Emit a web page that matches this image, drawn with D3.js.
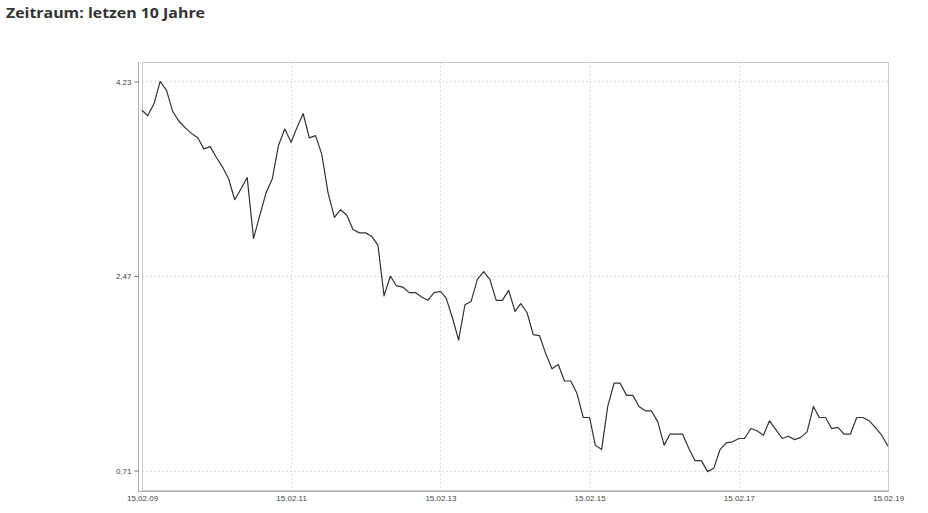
<!DOCTYPE html>
<html>
<head>
<meta charset="utf-8">
<script src="https://cdn.jsdelivr.net/npm/d3@7"></script>
<style>
  body { margin: 0; background: #fff; }
  .title { font-family: "Open Sans", sans-serif; font-weight: 700; font-size: 15px; fill: #333; }
  .tick text { font-family: "Liberation Sans", Arial, sans-serif; font-size: 8px; fill: #444; }
  .grid line { stroke: #ddd; stroke-dasharray: 2,2; }
</style>
</head>
<body>
<svg id="chart" width="928" height="513"></svg>
<script>
// monthly values, 15.02.2009 .. 15.02.2019
const values = [
  3.97, 3.92, 4.03, 4.23, 4.15, 3.96, 3.87, 3.81, 3.76, 3.72, 3.62, 3.64,
  3.54, 3.46, 3.35, 3.16, 3.26, 3.36, 2.81, 3.02, 3.22, 3.35, 3.65, 3.80,
  3.68, 3.81, 3.94, 3.72, 3.74, 3.57, 3.22, 3.00, 3.07, 3.02, 2.89, 2.86,
  2.86, 2.83, 2.75, 2.29, 2.47, 2.38, 2.37, 2.32, 2.32, 2.28, 2.25, 2.32,
  2.33, 2.27, 2.09, 1.89, 2.21, 2.24, 2.44, 2.51, 2.44, 2.25, 2.25, 2.34,
  2.15, 2.22, 2.14, 1.94, 1.93, 1.77, 1.63, 1.67, 1.52, 1.52, 1.41, 1.19,
  1.19, 0.94, 0.90, 1.29, 1.50, 1.50, 1.39, 1.39, 1.29, 1.25, 1.25, 1.15,
  0.94, 1.04, 1.04, 1.04, 0.91, 0.80, 0.80, 0.70, 0.73, 0.90, 0.96, 0.97,
  1.00, 1.00, 1.09, 1.07, 1.03, 1.16, 1.08, 1.00, 1.02, 0.99, 1.01, 1.06,
  1.29, 1.19, 1.19, 1.09, 1.10, 1.04, 1.04, 1.19, 1.19, 1.16, 1.10, 1.03,
  0.93
];
const startDate = new Date(2009, 1, 15);
const xTickLabels = ['15.02.09', '15.02.11', '15.02.13', '15.02.15', '15.02.17', '15.02.19'];
const yTickValues = [0.71, 2.47, 4.23];

const parseDate = d3.timeParse('%d.%m.%y');
const data = values.map((v, i) => ({ date: d3.timeMonth.offset(startDate, i), value: v }));

const svg = d3.select('#chart');
const plot = { left: 142, right: 888, top: 62, bottom: 490 };

svg.append('text')
  .attr('class', 'title')
  .attr('x', 6)
  .attr('y', 18)
  .attr('textLength', 199)
  .attr('lengthAdjust', 'spacingAndGlyphs')
  .text('Zeitraum: letzen 10 Jahre');

const x = d3.scaleTime()
  .domain([parseDate(xTickLabels[0]), parseDate(xTickLabels[xTickLabels.length - 1])])
  .range([plot.left, plot.right]);

const pad = (yTickValues[2] - yTickValues[0]) * 0.05;
const y = d3.scaleLinear()
  .domain([yTickValues[0] - pad, yTickValues[2] + pad])
  .range([plot.bottom, plot.top]);

const fmt = d3.formatLocale({ decimal: ',', thousands: '.', grouping: [3], currency: ['', '€'] }).format('.2f');

// grid
const grid = svg.append('g').attr('class', 'grid');
grid.selectAll('line.h')
  .data(yTickValues)
  .enter().append('line')
    .attr('class', 'h')
    .attr('x1', plot.left).attr('x2', plot.right)
    .attr('y1', d => Math.round(y(d)) + 0.5).attr('y2', d => Math.round(y(d)) + 0.5);
grid.selectAll('line.v')
  .data(xTickLabels.slice(1, -1))
  .enter().append('line')
    .attr('class', 'v')
    .attr('y1', plot.top).attr('y2', plot.bottom)
    .attr('x1', d => Math.round(x(parseDate(d))) + 0.5).attr('x2', d => Math.round(x(parseDate(d))) + 0.5);

// frame
svg.append('rect')
  .attr('x', plot.left + 0.5)
  .attr('y', plot.top + 0.5)
  .attr('width', plot.right - plot.left)
  .attr('height', plot.bottom - plot.top)
  .attr('fill', 'none')
  .attr('stroke', '#ccc');

// y axis
const yAxis = svg.append('g')
  .attr('transform', 'translate(138.5,0)')
  .call(d3.axisLeft(y).tickValues(yTickValues).tickFormat(fmt).tickSize(4).tickPadding(3));
yAxis.select('.domain').attr('stroke', '#aaa').attr('d', `M0,${plot.top}V${plot.bottom + 2}`);
yAxis.selectAll('.tick line').attr('stroke', '#777');

// x axis
const xAxis = svg.append('g')
  .attr('transform', `translate(0,${plot.bottom + 1.5})`)
  .call(d3.axisBottom(x)
    .tickValues(xTickLabels.map(parseDate))
    .tickFormat(d3.timeFormat('%d.%m.%y'))
    .tickSize(0).tickPadding(4));
xAxis.select('.domain').attr('stroke', '#aaa').attr('d', `M138,0H${plot.right + 1}`);

// line
svg.append('path')
  .datum(data)
  .attr('fill', 'none')
  .attr('stroke', '#333')
  .attr('stroke-width', 1.2)
  .attr('stroke-linejoin', 'round')
  .attr('d', d3.line().x(d => x(d.date)).y(d => y(d.value)));
</script>
</body>
</html>
